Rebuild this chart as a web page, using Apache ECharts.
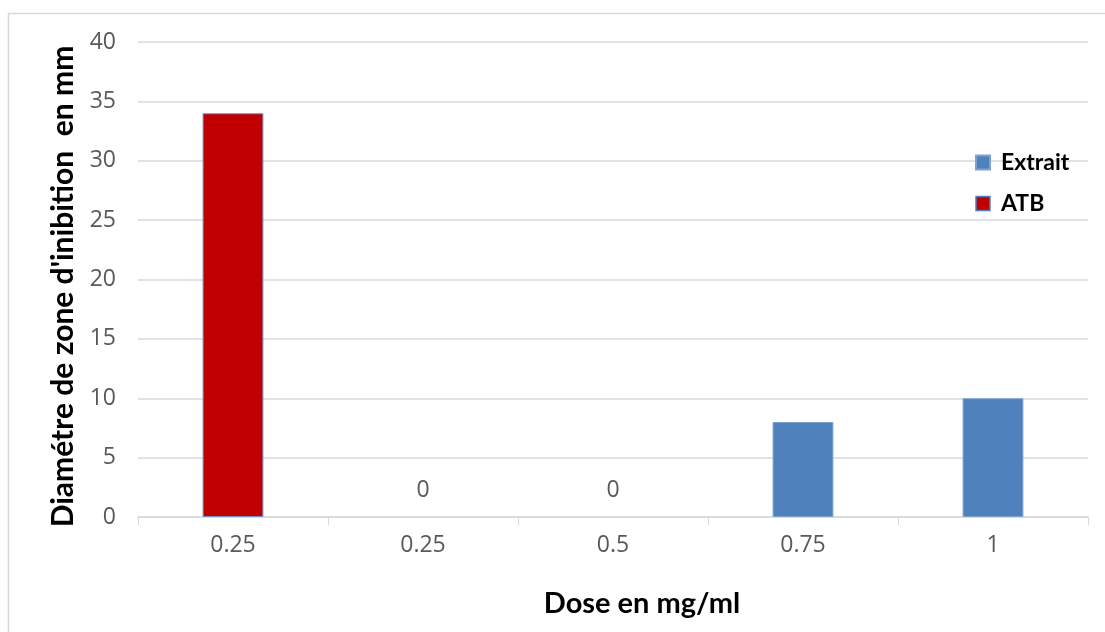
<!DOCTYPE html>
<html>
<head>
<meta charset="utf-8">
<script src="https://cdn.jsdelivr.net/npm/echarts@6/dist/echarts.min.js"></script>
<style>
  html, body { margin: 0; padding: 0; background: #fff; }
  #chart { width: 1105px; height: 632px; }
</style>
</head>
<body>
<div id="chart"></div>
<script>
// Dose categories along the x axis
const doses = ['0.25', '0.25', '0.5', '0.75', '1'];
// Inhibition zone diameters (mm); null where a series has no bar
const atbValues = [34, null, null, null, null];
const extraitValues = [null, 0, 0, 8, 10];
// Value axis settings
const yMin = 0, yMax = 40, yStep = 5;

const chart = echarts.init(document.getElementById('chart'));

const tickFont = { color: '#595959', fontSize: 23, fontFamily: 'Open Sans, DejaVu Sans, sans-serif' };
const titleFont = { color: '#000', fontSize: 29, fontWeight: 'bold', fontFamily: 'Lato, Open Sans, sans-serif' };

// Zero-valued bars carry their value as a label and no outline
const extraitData = extraitValues.map(v => v === 0
  ? {
      value: v,
      itemStyle: { borderWidth: 0 },
      label: { show: true, position: 'top', distance: 15, color: '#595959', fontSize: 23, fontFamily: 'Open Sans, DejaVu Sans, sans-serif' }
    }
  : v);

chart.setOption({
  animation: false,
  graphic: [{
    type: 'rect',
    shape: { x: 8.5, y: 13.5, width: 1200, height: 700 },
    style: { fill: 'none', stroke: '#d9d9d9', lineWidth: 1.5 },
    silent: true,
    z: -1
  }],
  grid: { left: 138, right: 17, top: 42, bottom: 115 },
  legend: {
    orient: 'vertical',
    left: 970,
    top: 146,
    itemGap: 18,
    itemWidth: 14,
    itemHeight: 14,
    data: [
      { name: 'Extrait', icon: 'rect' },
      { name: 'ATB', icon: 'rect', itemStyle: { borderColor: '#4f81bd', borderWidth: 1.5 } }
    ],
    textStyle: { color: '#000', fontSize: 23, fontWeight: 'bold', fontFamily: 'Lato, Open Sans, sans-serif', padding: [0, 0, 0, 6] }
  },
  xAxis: {
    type: 'category',
    data: doses,
    name: 'Dose en mg/ml',
    nameLocation: 'middle',
    nameGap: 72,
    nameTextStyle: Object.assign({ padding: [0, 0, 0, 58] }, titleFont),
    axisLine: { lineStyle: { color: '#d9d9d9', width: 1.5 } },
    axisTick: { show: true, length: 8, lineStyle: { color: '#d9d9d9' } },
    axisLabel: Object.assign({ margin: 17 }, tickFont)
  },
  yAxis: {
    type: 'value',
    min: yMin,
    max: yMax,
    interval: yStep,
    name: "Diamétre de zone d'inibition  en mm",
    nameLocation: 'middle',
    nameGap: 60,
    nameTextStyle: Object.assign({}, titleFont, { fontSize: 30, padding: [0, 14, 0, 0] }),
    axisLine: { show: false },
    axisTick: { show: false },
    axisLabel: Object.assign({ margin: 22 }, tickFont),
    splitLine: { lineStyle: { color: '#d9d9d9', width: 1.5 } }
  },
  series: [
    {
      name: 'Extrait',
      type: 'bar',
      stack: 'dose',
      barWidth: '32%',
      data: extraitData,
      itemStyle: { color: '#4f81bd', borderColor: '#7da2d1', borderWidth: 1 }
    },
    {
      name: 'ATB',
      type: 'bar',
      stack: 'dose',
      barWidth: '32%',
      data: atbValues,
      itemStyle: { color: '#c00000', borderColor: '#6f8fc7', borderWidth: 1 }
    }
  ]
});
</script>
</body>
</html>
